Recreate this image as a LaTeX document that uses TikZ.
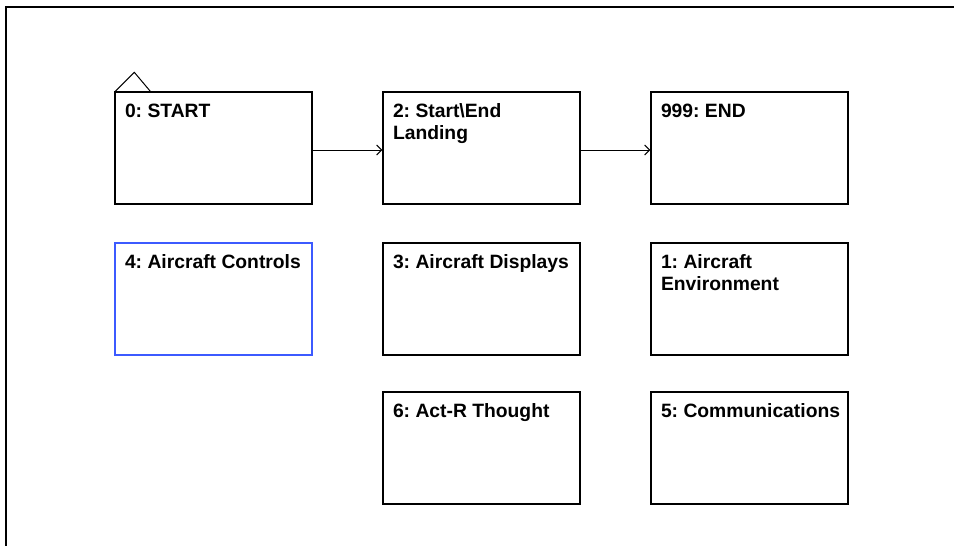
\documentclass[tikz,border=0pt]{standalone}
\usepackage{fontspec}
\setmainfont{Liberation Sans}
\usetikzlibrary{arrows.meta}

\definecolor{selblue}{RGB}{60,90,255}

\newcommand{\unittext}[1]{%
\parbox[c][112pt][t]{197pt}{\raggedright\frenchspacing\leftskip=10pt
\rule{0pt}{25pt}#1}}

\tikzset{
unit/.style={draw,line width=1.3pt,minimum width=197pt,minimum height=112pt,
inner sep=0pt,font=\bfseries\fontsize{19.3}{22}\selectfont},
flow/.style={line width=1pt,-{Straight Barb[length=5pt,width=10pt]}}
}

\begin{document}
\begin{tikzpicture}[x=1pt,y=-1pt]

\useasboundingbox (0,0) rectangle (954,546);

% frame
\draw[line width=2pt] (6,546) -- (6,7) -- (954,7);

\node[unit]
(S)
at (213.5,148)
{\unittext{0: START}};

\node[unit]
(L)
at (481.5,148)
{\unittext{2: Start\textbackslash End\\Landing}};

\node[unit]
(E)
at (749.5,148)
{\unittext{999: END}};

\node[unit,draw=selblue]
(C)
at (213.5,299)
{\unittext{4: Aircraft Controls}};

\node[unit]
(D)
at (481.5,299)
{\unittext{3: Aircraft Displays}};

\node[unit]
(V)
at (749.5,299)
{\unittext{1: Aircraft\\Environment}};

\node[unit]
(T)
at (481.5,448)
{\unittext{6: Act-R Thought}};

\node[unit]
(M)
at (749.5,448)
{\unittext{5: Communications}};

% start marker
\draw[line width=1pt] ([xshift=1pt]S.north west) -- ++(19,-19) -- ++(16,19);

\draw[flow] ([yshift=-2pt]S.east) -- ([yshift=-2pt]L.west);
\draw[flow] ([yshift=-2pt]L.east) -- ([yshift=-2pt]E.west);

\end{tikzpicture}
\end{document}
